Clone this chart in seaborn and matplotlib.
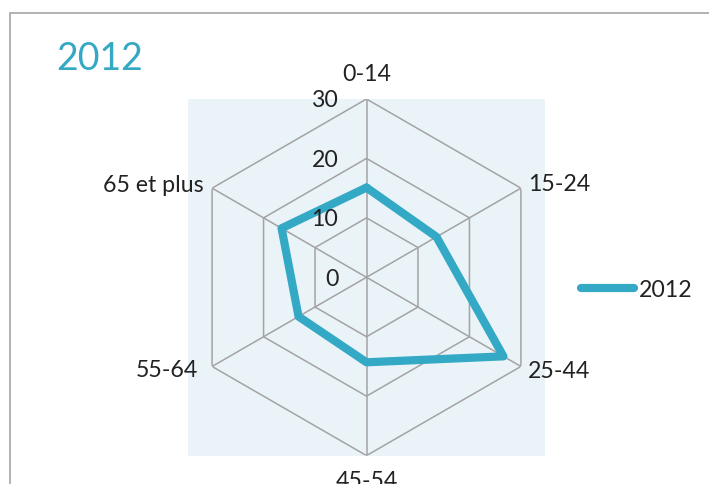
import numpy as np
import pandas as pd
import matplotlib
matplotlib.use("Agg")
import matplotlib.pyplot as plt
from matplotlib.patches import Rectangle
import seaborn as sns

# ---- data ----
categories = ["0-14", "15-24", "25-44", "45-54", "55-64", "65 et plus"]
values_2012 = [15.1, 13.6, 26.6, 14.3, 13.2, 16.5]
series_name = "2012"
r_ticks = [0, 10, 20, 30]
r_max = 30

sns.set_style("white")
plt.rcParams["font.family"] = ["Lato", "DejaVu Sans"]

LINE_C = "#33A9C6"
GRID_C = "#A3A3A3"
BG_C = "#EAF3F8"
TXT_C = "#222222"
FS = 16.7

W, H = 709, 485
fig = plt.figure(figsize=(W / 100, H / 100), dpi=100)

# outer frame (only top & left visible in the crop)
fig.patches.append(Rectangle((10 / W, -0.5), 2, 1.5 - 14 / H, transform=fig.transFigure,
                             fill=False, edgecolor="#A6A6A6", lw=1.2, figure=fig))

cx, cy, R = 366.5, 278.3, 178.3
rect = [(cx - R) / W, (H - cy - R) / H, 2 * R / W, 2 * R / H]

bg = fig.add_axes(rect)
bg.set_facecolor(BG_C)
bg.set_xticks([]); bg.set_yticks([])
for s in bg.spines.values():
    s.set_visible(False)

ax = fig.add_axes(rect, projection="polar")
ax.set_theta_zero_location("N")
ax.set_theta_direction(-1)
ax.set_ylim(0, r_max)
ax.grid(False)
ax.set_xticks([]); ax.set_yticks([])
ax.spines["polar"].set_visible(False)
ax.patch.set_alpha(0)

n = len(categories)
angles = np.linspace(0, 2 * np.pi, n, endpoint=False)
angles_closed = np.append(angles, 2 * np.pi)

# hexagonal grid
for r in r_ticks[1:]:
    ax.plot(angles_closed, [r] * (n + 1), color=GRID_C, lw=1.1, zorder=1)
for a in angles:
    ax.plot([a, a], [0, r_max], color=GRID_C, lw=1.1, zorder=1)

df = pd.DataFrame({"theta": angles_closed, "val": values_2012 + values_2012[:1]})
sns.lineplot(data=df, x="theta", y="val", sort=False, estimator=None, ax=ax,
             color=LINE_C, linewidth=5.9, solid_capstyle="round",
             solid_joinstyle="round", label=series_name, zorder=3)
ax.set_xlabel(""); ax.set_ylabel("")
ax.set_xticks([]); ax.set_yticks([])
ax.set_ylim(0, r_max)

# radial tick labels
for r in r_ticks:
    ax.annotate(str(r), xy=(0, r), xytext=(-20.3, -0.7), textcoords="offset points",
                ha="right", va="center", fontsize=FS, color=TXT_C, annotation_clip=False)

# category labels
offsets = [((0, 18), "center", "center"),
           ((5, 3), "left", "center"),
           ((5, -3), "left", "center"),
           ((0, -17.6), "center", "center"),
           ((-10, -2.5), "right", "center"),
           ((-6, 2.5), "right", "center")]
for a, lab, (off, ha, va) in zip(angles, categories, offsets):
    ax.annotate(lab, xy=(a, r_max), xytext=off, textcoords="offset points",
                ha=ha, va=va, fontsize=FS, color=TXT_C, annotation_clip=False)

leg = ax.legend(loc="center left", bbox_to_anchor=(581 / W, (H - 291) / H),
                bbox_transform=fig.transFigure, frameon=False, fontsize=FS,
                handlelength=2.29, handletextpad=0.22, borderpad=0, borderaxespad=0)
for t in leg.get_texts():
    t.set_color(TXT_C)

fig.text(56 / W, 1 - 58.5 / H, "2012", ha="left", va="center", fontsize=27,
         color="#35A8C4")

fig.savefig("out.png", dpi=100)
